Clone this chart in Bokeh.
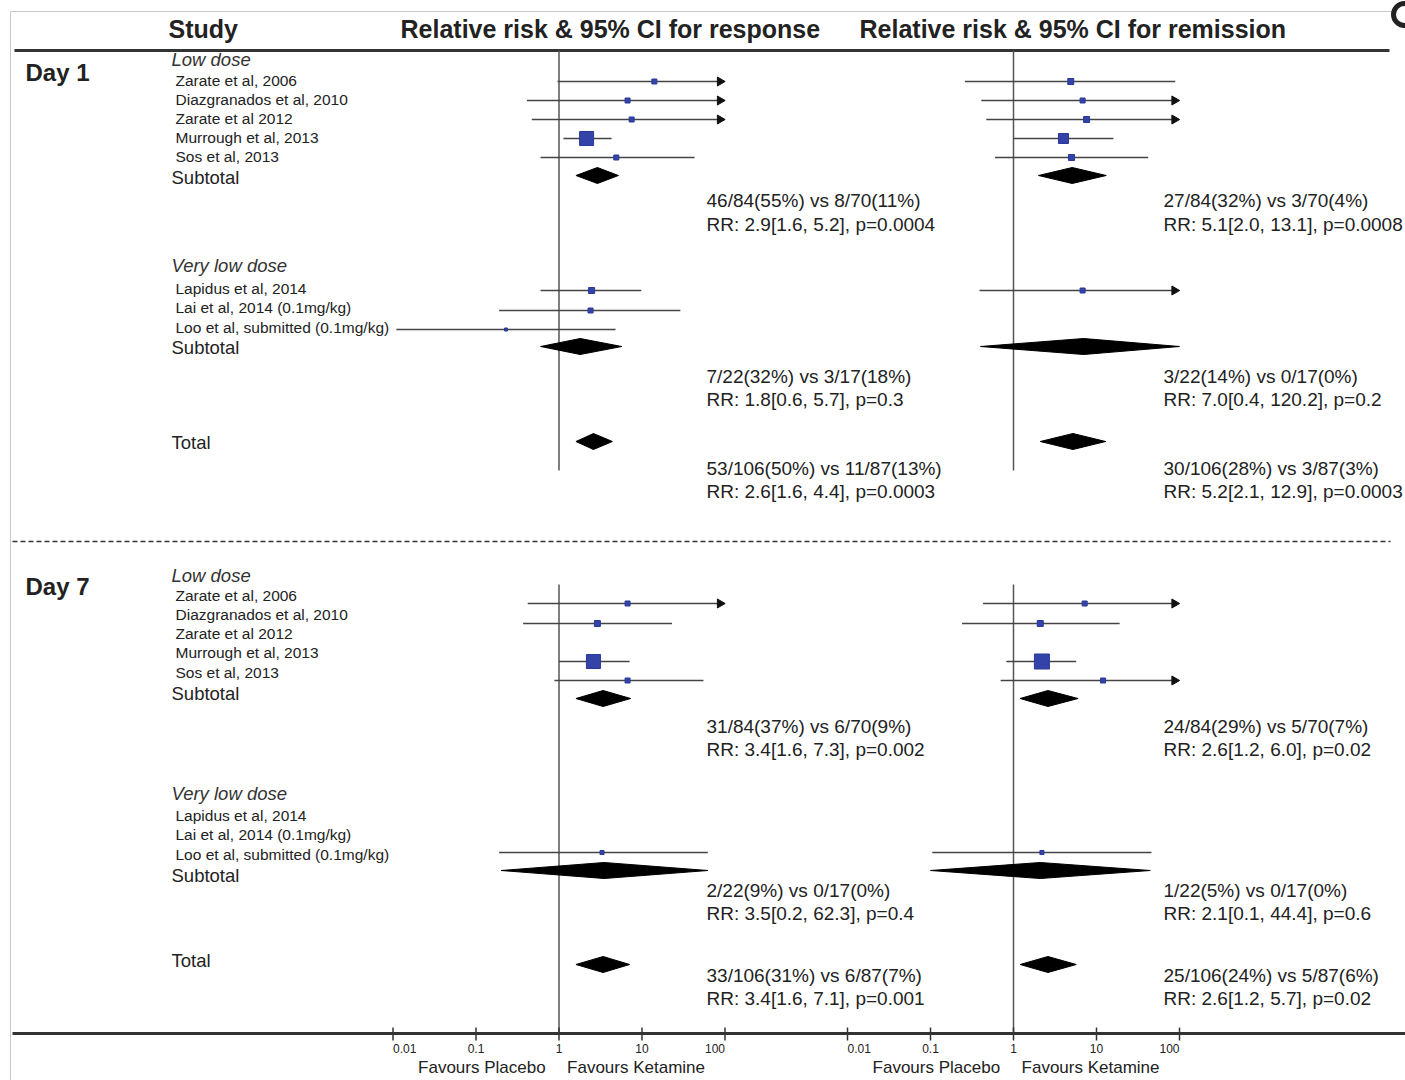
import math
from bokeh.plotting import figure
from bokeh.models import Range1d, LogScale
from bokeh.embed import file_html
from bokeh.resources import INLINE
from bokeh.core.properties import value

# ---------------- data ----------------
headers = ["Study", "Relative risk & 95% CI for response", "Relative risk & 95% CI for remission"]
day_labels = ["Day 1", "Day 7"]
group_labels = ["Low dose", "Very low dose"]
low_dose_studies = ["Zarate et al, 2006", "Diazgranados et al, 2010", "Zarate et al 2012",
                    "Murrough  et al, 2013", "Sos et al, 2013"]
very_low_dose_studies = ["Lapidus et al, 2014", "Lai et al, 2014 (0.1mg/kg)",
                         "Loo et al, submitted  (0.1mg/kg)"]
subtotal_label = "Subtotal"
total_label = "Total"
tick_values = [0.01, 0.1, 1, 10, 100]
tick_labels = ["0.01", "0.1", "1", "10", "100"]
favour_labels = ["Favours Placebo", "Favours Ketamine"]

NA = None
# per-study relative risk and 95% CI (5 low dose + 3 very low dose studies); None = not estimable
d1_resp_rr = [14.1, 6.7, 7.5, 2.15, 4.9, 2.47, 2.4, 0.23]
d1_resp_lo = [0.96, 0.41, 0.47, 1.13, 0.60, 0.60, 0.19, 0.011]
d1_resp_hi = [250, 250, 250, 4.3, 43, 9.8, 29, 4.8]
d1_rem_rr = [4.9, 6.8, 7.6, 4.0, 5.0, 6.8, NA, NA]
d1_rem_lo = [0.26, 0.41, 0.47, 1.0, 0.60, 0.39, NA, NA]
d1_rem_hi = [89, 250, 250, 16, 42, 250, NA, NA]
d7_resp_rr = [6.7, 2.9, NA, 2.6, 6.7, NA, NA, 3.3]
d7_resp_lo = [0.42, 0.37, NA, 1.0, 0.88, NA, NA, 0.19]
d7_resp_hi = [250, 23, NA, 7.1, 55, NA, NA, 62]
d7_rem_rr = [7.2, 2.1, NA, 2.2, 12.0, NA, NA, 2.2]
d7_rem_lo = [0.43, 0.24, NA, 0.82, 0.70, NA, NA, 0.105]
d7_rem_hi = [250, 19, NA, 5.7, 250, NA, NA, 46]

# pooled estimates: [low dose subtotal, very low dose subtotal, total]
d1_resp_pool_rr = [2.9, 1.8, 2.6]
d1_resp_pool_lo = [1.6, 0.6, 1.6]
d1_resp_pool_hi = [5.2, 5.7, 4.4]
d1_resp_p = ["0.0004", "0.3", "0.0003"]
d1_resp_events = ["46/84(55%) vs 8/70(11%)", "7/22(32%) vs 3/17(18%)", "53/106(50%) vs 11/87(13%)"]

d1_rem_pool_rr = [5.1, 7.0, 5.2]
d1_rem_pool_lo = [2.0, 0.4, 2.1]
d1_rem_pool_hi = [13.1, 120.2, 12.9]
d1_rem_p = ["0.0008", "0.2", "0.0003"]
d1_rem_events = ["27/84(32%) vs 3/70(4%)", "3/22(14%) vs 0/17(0%)", "30/106(28%) vs 3/87(3%)"]

d7_resp_pool_rr = [3.4, 3.5, 3.4]
d7_resp_pool_lo = [1.6, 0.2, 1.6]
d7_resp_pool_hi = [7.3, 62.3, 7.1]
d7_resp_p = ["0.002", "0.4", "0.001"]
d7_resp_events = ["31/84(37%) vs 6/70(9%)", "2/22(9%) vs 0/17(0%)", "33/106(31%) vs 6/87(7%)"]

d7_rem_pool_rr = [2.6, 2.1, 2.6]
d7_rem_pool_lo = [1.2, 0.1, 1.2]
d7_rem_pool_hi = [6.0, 44.4, 5.7]
d7_rem_p = ["0.02", "0.6", "0.02"]
d7_rem_events = ["24/84(29%) vs 5/70(7%)", "1/22(5%) vs 0/17(0%)", "25/106(24%) vs 5/87(6%)"]

# ---------------- styles / layout ----------------
FONT = "Liberation Sans"
TXT = "#222222"
W, H = 1405, 1080
X0, Y0 = 0, 0
CLIP = 100.0
ARROW_AT = 87.0  # arrow-head centre so that its tip meets the clip limit

# marker sizes (study weights) per panel
sizes = {
    "d1_resp": [5, 5, 5, 14, 5, 6, 5, 3],
    "d1_rem": [6, 5, 6, 10, 6, 5, 5, 5],
    "d7_resp": [5, 6, 5, 14, 5, 5, 5, 4],
    "d7_rem": [5, 6, 5, 15, 5, 5, 5, 4],
}

layout = [
    dict(day_y=72, low_hdr=59, low_lbl=[80, 99, 118, 137, 156], low_mark=[81, 100, 119, 138, 157],
         sub1_lbl=177, sub1_dia=175, ann1=[200, 224], vlow_hdr=265, vlow_lbl=[288, 307, 327],
         vlow_mark=[290, 310, 329], sub2_lbl=347, sub2_dia=346, ann2=[376, 399],
         tot_lbl=442, tot_dia=441, ann3=[468, 491], ref=(50, 470)),
    dict(day_y=586, low_hdr=575, low_lbl=[595, 614, 633, 652, 672], low_mark=[603, 623, 642, 661, 680],
         sub1_lbl=693, sub1_dia=698, ann1=[726, 749], vlow_hdr=793, vlow_lbl=[815, 834, 854],
         vlow_mark=[823, 842, 852], sub2_lbl=875, sub2_dia=870, ann2=[890, 913],
         tot_lbl=960, tot_dia=964, ann3=[975, 998], ref=(584, 1033)),
]

# panel pixel geometry: position of RR=1 and pixels per decade
panels = {"resp": (558.5, 83.0), "rem": (1013.0, 83.0)}
ann_x = {"resp": 706, "rem": 1163}

p = figure(width=W, height=H, x_range=Range1d(X0, X0 + W), y_range=Range1d(Y0 + H, Y0),
           x_axis_location=None, y_axis_location=None, toolbar_location=None,
           output_backend="svg", min_border=0, outline_line_color=None,
           background_fill_color="white", border_fill_color="white")
p.grid.grid_line_color = None

ranges, scales = {}, {}
for name, (c, dec) in panels.items():
    lo = (X0 - c) / dec
    hi = (X0 + W - c) / dec
    ranges[name] = Range1d(10 ** lo, 10 ** hi)
    scales[name] = LogScale()
p.extra_x_ranges = ranges
p.extra_x_scales = scales


def txt(x, y, s, size, style="normal", align="left", color=TXT, xr="default"):
    if not isinstance(x, list):
        x, y, s = [x], [y], [s]
    p.text(x=x, y=y, text=s, text_font=value(FONT), text_font_size=size, text_font_style=style,
           text_align=align, text_baseline="middle", text_color=color, x_range_name=xr)


# frame & rules
p.segment(x0=[10, 10], y0=[11, 11], x1=[10, 1392], y1=[1080, 11], line_color="#c8c8c8", line_width=1)
p.segment(x0=14, y0=50, x1=1389, y1=50, line_color="#333333", line_width=3)
p.segment(x0=12, y0=1033, x1=1405, y1=1033, line_color="#333333", line_width=3)
p.segment(x0=12, y0=541, x1=1390, y1=541, line_color="#333333", line_width=1.5, line_dash="5 3")
p.circle(x=1404, y=14, radius=11, fill_color=None, line_color="#222222", line_width=5)

# headers
txt([168, 400, 859], [28, 28, 28], headers, "25px", "bold")

panel_data = {
    (0, "resp"): ("d1_resp", d1_resp_rr, d1_resp_lo, d1_resp_hi, d1_resp_pool_rr, d1_resp_pool_lo,
                  d1_resp_pool_hi, d1_resp_p, d1_resp_events),
    (0, "rem"): ("d1_rem", d1_rem_rr, d1_rem_lo, d1_rem_hi, d1_rem_pool_rr, d1_rem_pool_lo,
                 d1_rem_pool_hi, d1_rem_p, d1_rem_events),
    (1, "resp"): ("d7_resp", d7_resp_rr, d7_resp_lo, d7_resp_hi, d7_resp_pool_rr, d7_resp_pool_lo,
                  d7_resp_pool_hi, d7_resp_p, d7_resp_events),
    (1, "rem"): ("d7_rem", d7_rem_rr, d7_rem_lo, d7_rem_hi, d7_rem_pool_rr, d7_rem_pool_lo,
                 d7_rem_pool_hi, d7_rem_p, d7_rem_events),
}

for d, L in enumerate(layout):
    # left text column
    txt(25, L["day_y"], day_labels[d], "24px", "bold")
    txt([171, 171], [L["low_hdr"], L["vlow_hdr"]], group_labels, "18.5px", "italic", color="#333333")
    txt([175] * 5, L["low_lbl"], low_dose_studies, "15.5px")
    txt([175] * 3, L["vlow_lbl"], very_low_dose_studies, "15.5px")
    txt([171, 171, 171], [L["sub1_lbl"], L["sub2_lbl"], L["tot_lbl"]],
        [subtotal_label, subtotal_label, total_label], "18.5px")

    marks_y = L["low_mark"] + L["vlow_mark"]
    dia_y = [L["sub1_dia"], L["sub2_dia"], L["tot_dia"]]
    ann_y = [L["ann1"], L["ann2"], L["ann3"]]

    for pname in ("resp", "rem"):
        key, rr, lo, hi, prr, plo, phi, pv, ev = panel_data[(d, pname)]
        # reference line at RR = 1
        p.segment(x0=1, y0=L["ref"][0], x1=1, y1=L["ref"][1], line_color="#555555",
                  line_width=1.5, x_range_name=pname)
        xs0, xs1, ys, mx, my, ms, ax, ay = [], [], [], [], [], [], [], []
        for i in range(8):
            if rr[i] is None:
                continue
            xs0.append(lo[i])
            xs1.append(min(hi[i], ARROW_AT if hi[i] > CLIP else CLIP))
            ys.append(marks_y[i])
            mx.append(rr[i])
            my.append(marks_y[i])
            ms.append(sizes[key][i])
            if hi[i] > CLIP:
                ax.append(ARROW_AT)
                ay.append(marks_y[i])
        p.segment(x0=xs0, y0=ys, x1=xs1, y1=ys, line_color="#444444", line_width=1.5,
                  x_range_name=pname)
        if ax:
            p.scatter(x=ax, y=ay, marker="triangle", angle=-math.pi / 2, size=9,
                      fill_color="#111111", line_color="#111111", x_range_name=pname)
        p.scatter(x=mx, y=my, marker="square", size=ms, fill_color="#3343a8",
                  line_color="#2a3898", x_range_name=pname)
        # pooled diamonds
        pxs, pys = [], []
        for j in range(3):
            yy = dia_y[j]
            pxs.append([plo[j], prr[j], min(phi[j], CLIP), prr[j]])
            pys.append([yy, yy - 8, yy, yy + 8])
        p.patches(xs=pxs, ys=pys, fill_color="#000000", line_color="#000000", line_width=1,
                  x_range_name=pname)
        # annotations
        for j in range(3):
            rr_txt = f"RR: {prr[j]:.1f}[{plo[j]:.1f}, {phi[j]:.1f}], p={pv[j]}"
            txt([ann_x[pname]] * 2, ann_y[j], [ev[j], rr_txt], "19px")

# bottom log axes
for pname in ("resp", "rem"):
    p.segment(x0=tick_values, y0=[1027] * 5, x1=tick_values, y1=[1040] * 5,
              line_color="#333333", line_width=1.5, x_range_name=pname)
    aligns = ["left", "center", "center", "center", "right"]
    for tv, tl, al in zip(tick_values, tick_labels, aligns):
        txt(tv, 1048, tl, "12px", align=al, xr=pname)
    txt(0.69, 1067, favour_labels[0], "17px", align="right", xr=pname)
    txt(1.25, 1067, favour_labels[1], "17px", align="left", xr=pname)

open("out.html", "w").write(file_html(p, INLINE))
